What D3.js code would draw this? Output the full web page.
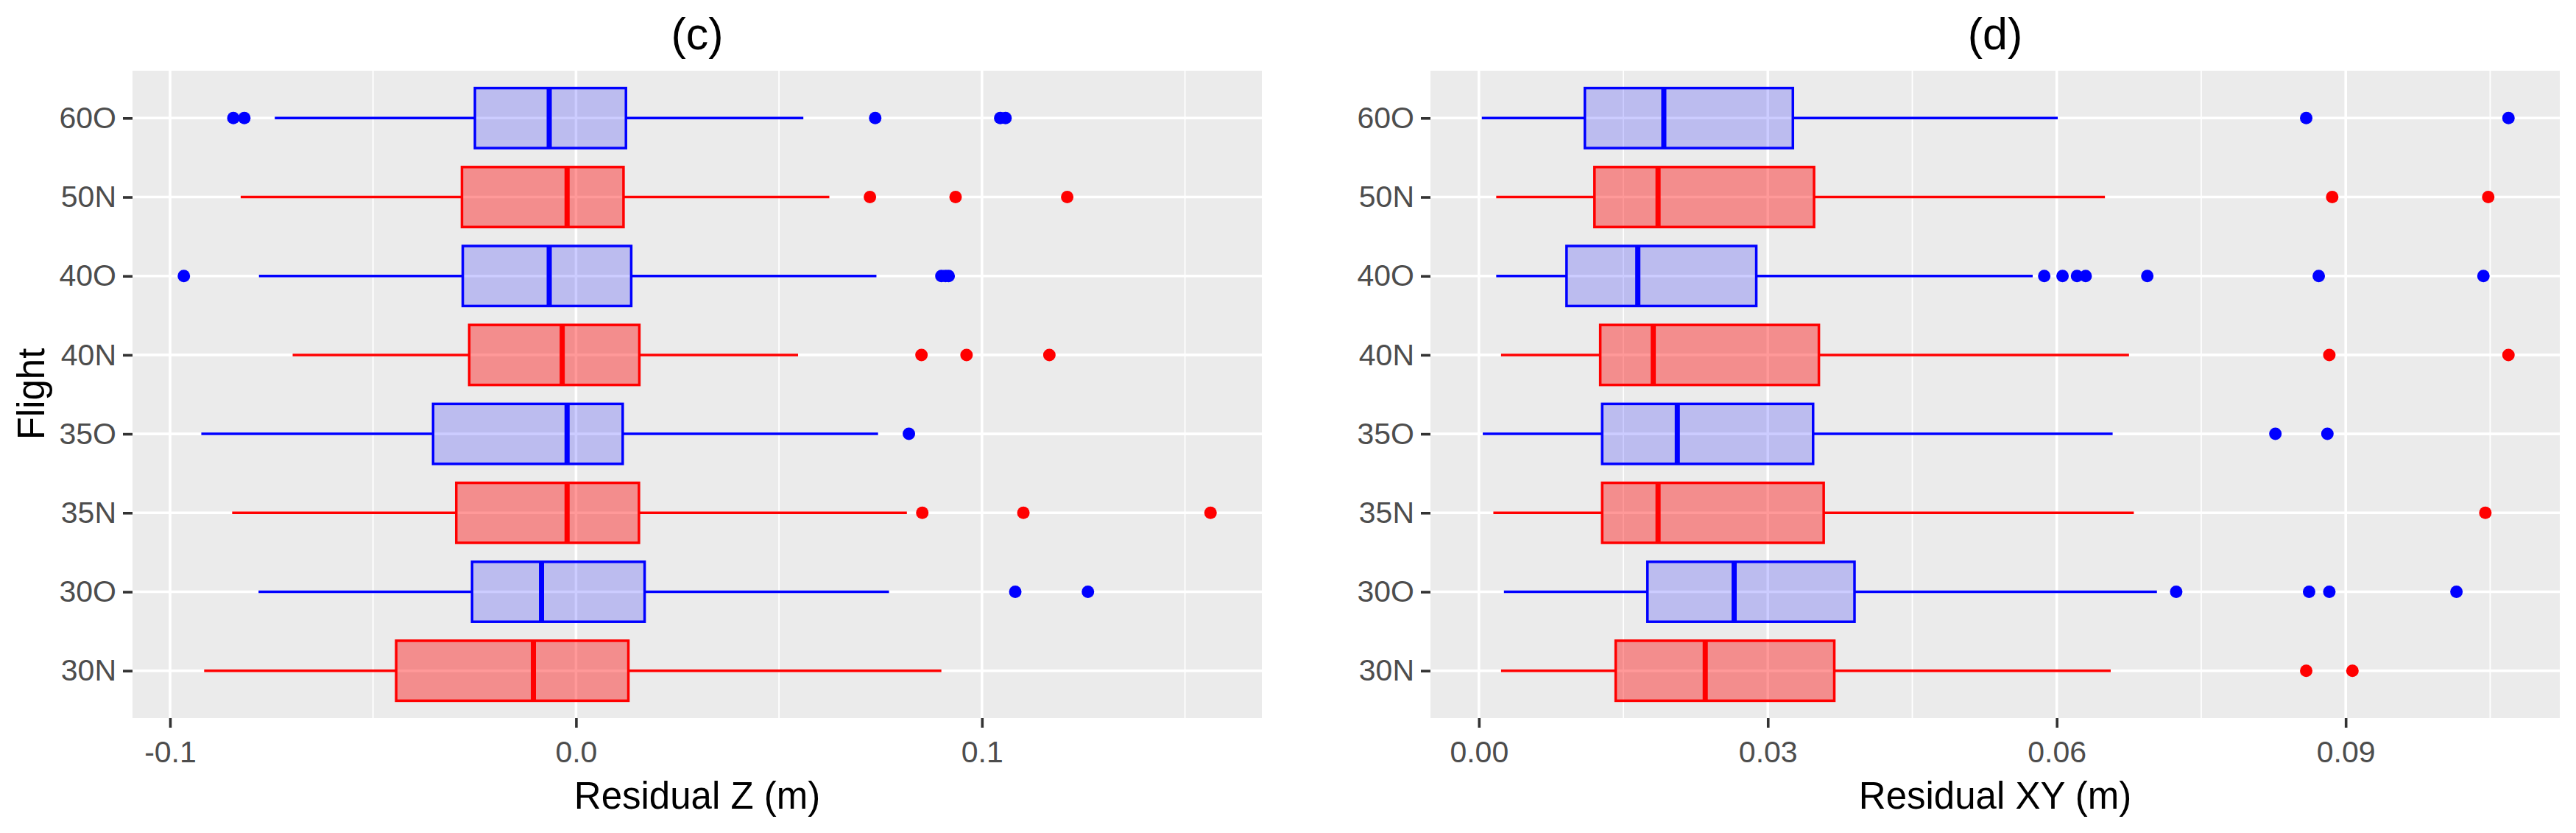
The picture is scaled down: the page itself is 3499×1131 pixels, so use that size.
<!DOCTYPE html>
<html>
<head>
<meta charset="utf-8">
<title>Residual boxplots (c) (d)</title>
<script src="https://d3js.org/d3.v7.min.js"></script>
<style>
  body { margin: 0; background: #ffffff; }
  svg { display: block; }
  text { font-family: "Liberation Sans", Arial, sans-serif; }
</style>
</head>
<body>
<svg id="chart" width="3499" height="1131"></svg>
<script>
// flights, bottom to top
var flights = ["30N", "30O", "35N", "35O", "40N", "40O", "50N", "60O"];
var groups  = ["N", "O", "N", "O", "N", "O", "N", "O"];

// (c) Residual Z
var zLower  = [-0.0916, -0.0782, -0.0847, -0.0923, -0.0698, -0.0781, -0.0826, -0.0742];
var zQ1     = [-0.0443, -0.0256, -0.0295, -0.0352, -0.0263, -0.0279, -0.0281, -0.0249];
var zMedian = [-0.0105, -0.0085, -0.0022, -0.0022, -0.0034, -0.0066, -0.0022, -0.0066];
var zQ3     = [ 0.0129,  0.0169,  0.0155,  0.0115,  0.0156,  0.0136,  0.0117,  0.0123];
var zUpper  = [ 0.0900,  0.0771,  0.0815,  0.0744,  0.0547,  0.0740,  0.0624,  0.0560];
var zOutliers = [
  [],
  [0.1082, 0.1261],
  [0.0853, 0.1102, 0.1563],
  [0.0820],
  [0.0851, 0.0962, 0.1166],
  [-0.0966, 0.0900, 0.0910, 0.0918],
  [0.0724, 0.0935, 0.1210],
  [-0.0844, -0.0817, 0.0737, 0.1045, 0.1058]
];
var zTicks = [-0.1, 0, 0.1];
var zTickLabels = ["-0.1", "0.0", "0.1"];

// (d) Residual XY
var xyLower  = [0.0023, 0.0026, 0.0015, 0.0004, 0.0023, 0.0018, 0.0018, 0.0003];
var xyQ1     = [0.0142, 0.0175, 0.0128, 0.0128, 0.0126, 0.0091, 0.0120, 0.0110];
var xyMedian = [0.0235, 0.0265, 0.0186, 0.0206, 0.0181, 0.0165, 0.0186, 0.0192];
var xyQ3     = [0.0369, 0.0390, 0.0358, 0.0347, 0.0353, 0.0288, 0.0348, 0.0326];
var xyUpper  = [0.0656, 0.0704, 0.0680, 0.0658, 0.0675, 0.0575, 0.0650, 0.0601];
var xyOutliers = [
  [0.0859, 0.0907],
  [0.0724, 0.0862, 0.0883, 0.1015],
  [0.1045],
  [0.0827, 0.0881],
  [0.0883, 0.1069],
  [0.0587, 0.0606, 0.0621, 0.0630, 0.0694, 0.0872, 0.1043],
  [0.0886, 0.1048],
  [0.0859, 0.1069]
];
var xyTicks = [0, 0.03, 0.06, 0.09];
var xyTickLabels = ["0.00", "0.03", "0.06", "0.09"];

var lineColor = { N: "#ff0000", O: "#0000ff" };
var fillAlpha = { N: 0.4, O: 0.2 };

var svg = d3.select("#chart");
svg.append("rect").attr("width", 3499).attr("height", 1131).attr("fill", "#ffffff");

function drawPanel(p) {
  var g = svg.append("g");

  // ggplot style 5% expansion of the data range
  var all = [].concat(p.lower, p.upper, d3.merge(p.outliers));
  var ext = d3.extent(all);
  var pad = (ext[1] - ext[0]) * 0.05;
  var x = d3.scaleLinear().domain([ext[0] - pad, ext[1] + pad]).range([p.left, p.right]);
  var y = d3.scalePoint().domain(flights).range([p.bottom, p.top]).padding(0.6);
  var boxH = y.step() * 0.76;

  g.append("rect")
    .attr("x", p.left).attr("y", p.top)
    .attr("width", p.right - p.left).attr("height", p.bottom - p.top)
    .attr("fill", "#ebebeb");

  // minor grid at midpoints between the breaks
  var step = p.ticks[1] - p.ticks[0];
  var minor = [];
  for (var k = -1; k < p.ticks.length; k++) {
    var m = p.ticks[0] + step * (k + 0.5);
    if (m > x.domain()[0] && m < x.domain()[1]) minor.push(m);
  }
  g.selectAll(".minor").data(minor).enter().append("line")
    .attr("x1", function(d) { return x(d); }).attr("x2", function(d) { return x(d); })
    .attr("y1", p.top).attr("y2", p.bottom)
    .attr("stroke", "#ffffff").attr("stroke-width", 1.8);
  g.selectAll(".majorx").data(p.ticks).enter().append("line")
    .attr("x1", function(d) { return x(d); }).attr("x2", function(d) { return x(d); })
    .attr("y1", p.top).attr("y2", p.bottom)
    .attr("stroke", "#ffffff").attr("stroke-width", 3.6);
  g.selectAll(".majory").data(flights).enter().append("line")
    .attr("x1", p.left).attr("x2", p.right)
    .attr("y1", function(d) { return y(d); }).attr("y2", function(d) { return y(d); })
    .attr("stroke", "#ffffff").attr("stroke-width", 3.6);

  var idx = d3.range(flights.length);

  // whiskers
  g.selectAll(".wlo").data(idx).enter().append("line")
    .attr("x1", function(i) { return x(p.lower[i]); })
    .attr("x2", function(i) { return x(p.q1[i]); })
    .attr("y1", function(i) { return y(flights[i]); })
    .attr("y2", function(i) { return y(flights[i]); })
    .attr("stroke", function(i) { return lineColor[groups[i]]; })
    .attr("stroke-width", 3.5);
  g.selectAll(".whi").data(idx).enter().append("line")
    .attr("x1", function(i) { return x(p.q3[i]); })
    .attr("x2", function(i) { return x(p.upper[i]); })
    .attr("y1", function(i) { return y(flights[i]); })
    .attr("y2", function(i) { return y(flights[i]); })
    .attr("stroke", function(i) { return lineColor[groups[i]]; })
    .attr("stroke-width", 3.5);

  // boxes
  g.selectAll(".box").data(idx).enter().append("rect")
    .attr("x", function(i) { return x(p.q1[i]); })
    .attr("y", function(i) { return y(flights[i]) - boxH / 2; })
    .attr("width", function(i) { return x(p.q3[i]) - x(p.q1[i]); })
    .attr("height", boxH)
    .attr("fill", function(i) { return lineColor[groups[i]]; })
    .attr("fill-opacity", function(i) { return fillAlpha[groups[i]]; })
    .attr("stroke", function(i) { return lineColor[groups[i]]; })
    .attr("stroke-width", 3.5);

  // medians
  g.selectAll(".med").data(idx).enter().append("line")
    .attr("x1", function(i) { return x(p.median[i]); })
    .attr("x2", function(i) { return x(p.median[i]); })
    .attr("y1", function(i) { return y(flights[i]) - boxH / 2; })
    .attr("y2", function(i) { return y(flights[i]) + boxH / 2; })
    .attr("stroke", function(i) { return lineColor[groups[i]]; })
    .attr("stroke-width", 7);

  // outliers
  var pts = [];
  idx.forEach(function(i) {
    p.outliers[i].forEach(function(v) { pts.push({ f: flights[i], g: groups[i], v: v }); });
  });
  g.selectAll(".out").data(pts).enter().append("circle")
    .attr("cx", function(d) { return x(d.v); })
    .attr("cy", function(d) { return y(d.f); })
    .attr("r", 8.5)
    .attr("fill", function(d) { return lineColor[d.g]; });

  // axes
  var xAxis = g.append("g")
    .attr("transform", "translate(0," + p.bottom + ")")
    .call(d3.axisBottom(x).tickValues(p.ticks)
      .tickFormat(function(d, i) { return p.tickLabels[i]; })
      .tickSize(13).tickPadding(18));
  var yAxis = g.append("g")
    .attr("transform", "translate(" + p.left + ",0)")
    .call(d3.axisLeft(y).tickSize(13).tickPadding(9));
  [xAxis, yAxis].forEach(function(a) {
    a.select(".domain").remove();
    a.selectAll(".tick line").attr("stroke", "#333333").attr("stroke-width", 3.6);
    a.selectAll(".tick text")
      .attr("fill", "#4d4d4d")
      .style("font-size", "41px")
      .style("font-family", "'Liberation Sans', Arial, sans-serif");
  });

  var cx = (p.left + p.right) / 2;
  g.append("text")
    .attr("x", cx).attr("y", 67)
    .attr("text-anchor", "middle")
    .style("font-size", "61px")
    .attr("fill", "#000000")
    .text(p.title);
  g.append("text")
    .attr("x", cx).attr("y", 1098)
    .attr("text-anchor", "middle")
    .style("font-size", "51px")
    .attr("fill", "#000000")
    .text(p.xTitle);
}

drawPanel({
  left: 180, right: 1714, top: 96, bottom: 975,
  lower: zLower, q1: zQ1, median: zMedian, q3: zQ3, upper: zUpper, outliers: zOutliers,
  ticks: zTicks, tickLabels: zTickLabels,
  title: "(c)", xTitle: "Residual Z (m)"
});
drawPanel({
  left: 1943, right: 3477, top: 96, bottom: 975,
  lower: xyLower, q1: xyQ1, median: xyMedian, q3: xyQ3, upper: xyUpper, outliers: xyOutliers,
  ticks: xyTicks, tickLabels: xyTickLabels,
  title: "(d)", xTitle: "Residual XY (m)"
});

svg.append("text")
  .attr("transform", "translate(60,535) rotate(-90)")
  .attr("text-anchor", "middle")
  .style("font-size", "51px")
  .attr("fill", "#000000")
  .text("Flight");
</script>
</body>
</html>
